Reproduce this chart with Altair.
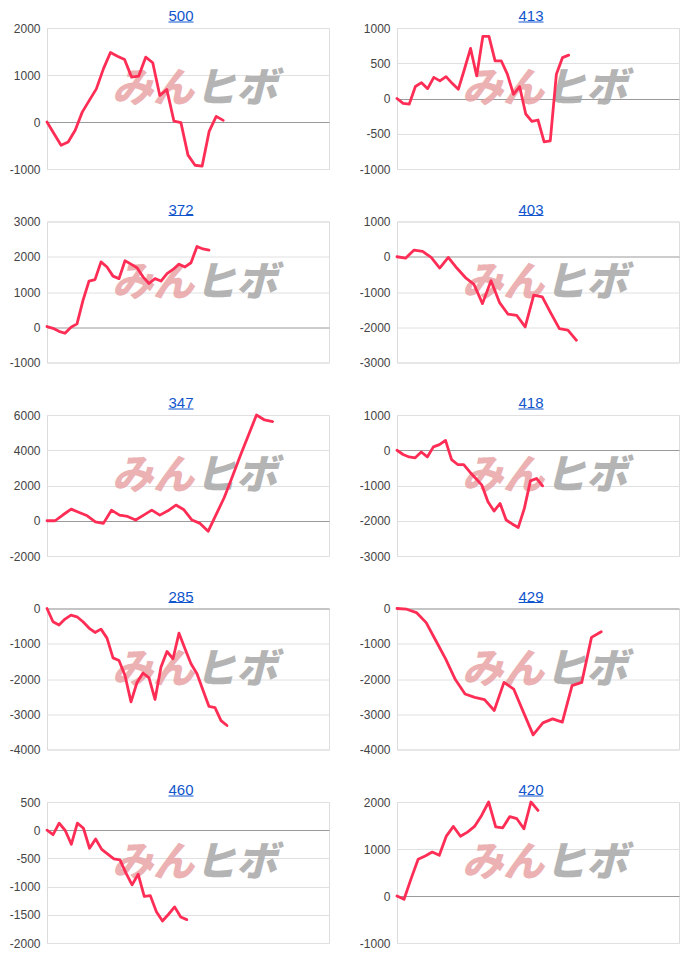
import altair as alt
import pandas as pd

titles = ["500", "413", "372", "403", "347", "418", "285", "429", "460", "420"]

s500 = [0, -250, -495, -425, -175, 210, 460, 705, 1130, 1480, 1400, 1330, 955, 975,
        1380, 1260, 565, 690, 20, -15, -705, -920, -940, -200, 120, 35]
s413 = [0, -70, -80, 170, 225, 140, 300, 250, 310, 215, 130, 415, 710, 320, 880, 880,
        535, 535, 345, 60, 170, -220, -325, -305, -615, -600, 345, 580, 615]
s372 = [20, -30, -115, -170, 0, 95, 760, 1310, 1350, 1855, 1710, 1450, 1380, 1885, 1790,
        1690, 1430, 1240, 1380, 1310, 1520, 1640, 1790, 1710, 1830, 2290, 2220, 2190]
s403 = [0, -40, 190, 150, -20, -320, -20, -320, -590, -780, -1330, -680, -1300, -1630,
        -1660, -1990, -1090, -1140, -1600, -2040, -2080, -2370]
s347 = [0, 0, 340, 660, 470, 280, -60, -150, 600, 320, 245, 40, 320, 600, 320, 565, 890,
        620, 40, -150, -600, 360, 1320, 2500, 3700, 4850, 6000, 5720, 5630]
s418 = [0, -120, -190, -215, -50, -190, 95, 160, 280, -265, -405, -405, -615, -800, -990,
        -1460, -1725, -1510, -1980, -2090, -2190, -1650, -870, -800, -1010]
s285 = [0, -375, -470, -300, -190, -235, -375, -555, -680, -585, -840, -1400, -1475, -1900,
        -2650, -2100, -1830, -1970, -2580, -1660, -1220, -1425, -700, -1145, -1570, -1850,
        -2320, -2780, -2810, -3180, -3320]
s429 = [0, -20, -115, -400, -915, -1430, -2015, -2425, -2520, -2585, -2895, -2095, -2285,
        -2940, -3585, -3245, -3130, -3225, -2190, -2095, -820, -660]
s460 = [0, -80, 125, -5, -250, 125, 35, -320, -155, -340, -425, -510, -525, -760, -970,
        -780, -1175, -1160, -1445, -1610, -1490, -1360, -1540, -1585]
s420 = [0, -70, 370, 780, 850, 935, 865, 1275, 1480, 1270, 1360, 1480, 1715, 2000, 1470,
        1450, 1690, 1645, 1430, 2000, 1820]

series = [s500, s413, s372, s403, s347, s418, s285, s429, s460, s420]
x_max = [40, 46, 47, 33, 35, 46.5, 47, 29, 46.4, 40]
y_min = [-1000, -1000, -1000, -3000, -2000, -3000, -4000, -4000, -2000, -1000]
y_max = [2000, 1000, 3000, 1000, 6000, 1000, 0, 0, 500, 2000]
y_step = [1000, 500, 1000, 1000, 2000, 1000, 1000, 1000, 500, 1000]

W, H = 282, 141
LINE_COLOR = "#fe2d55"
LINK_COLOR = "#1155cc"
FONT = "Liberation Sans"


def panel(title, values, xmax, ymin, ymax, ystep):
    ticks = list(range(ymin, ymax + 1, ystep))
    df = pd.DataFrame({"i": list(range(len(values))), "v": values})
    x = alt.X("i:Q", scale=alt.Scale(domain=[0, xmax], nice=False, zero=False), axis=None)
    y = alt.Y("v:Q", scale=alt.Scale(domain=[ymin, ymax], nice=False, zero=False),
              axis=alt.Axis(values=ticks, title=None, grid=True,
                            labelExpr="'' + datum.value",
                            gridColor={"condition": {"test": "datum.value === 0", "value": "#9a9a9a"},
                                       "value": "#e0e0e0"},
                            gridWidth=1, domain=True, domainColor="#dcdcdc", ticks=False,
                            labelPadding=7, labelColor="#444444", labelFontSize=12,
                            labelFont=FONT, labelFlush=False))
    wm1 = alt.Chart(alt.Data(values=[{"t": "みん"}])).mark_text(
        font="Noto Sans CJK JP", fontSize=41, fontWeight=900, fontStyle="italic",
        color="#e8a4a6", opacity=0.85, align="center", baseline="middle"
    ).encode(text="t:N", x=alt.value(106), y=alt.value(62))
    wm2 = alt.Chart(alt.Data(values=[{"t": "ヒボ"}])).mark_text(
        font="Noto Sans CJK JP", fontSize=41, fontWeight=900, fontStyle="italic",
        color="#a8a8a8", opacity=0.85, align="center", baseline="middle"
    ).encode(text="t:N", x=alt.value(189), y=alt.value(62))
    line = alt.Chart(df).mark_line(color=LINE_COLOR, strokeWidth=2.8, strokeJoin="round",
                                   strokeCap="round").encode(x=x, y=y)
    ttl = alt.Chart(alt.Data(values=[{"t": title}])).mark_text(
        font=FONT, fontSize=15, color=LINK_COLOR, align="center", baseline="top"
    ).encode(text="t:N", x=alt.value(134), y=alt.value(-19))
    und = alt.Chart(alt.Data(values=[{"u": 1}])).mark_rule(color=LINK_COLOR, strokeWidth=1).encode(
        x=alt.value(121.5), x2=alt.value(146.5), y=alt.value(-6))
    return alt.layer(wm1, wm2, line, ttl, und).properties(width=W, height=H)


panels = [panel(t, s, xm, a, b, st) for t, s, xm, a, b, st in
          zip(titles, series, x_max, y_min, y_max, y_step)]

chart = alt.concat(*panels, columns=2, spacing={"row": 52.5, "column": 68}, bounds="flush").properties(
    padding=0
).configure_view(stroke=None).configure(background="white")

chart.save("out.html", embed_options={"renderer": "svg", "actions": False})
